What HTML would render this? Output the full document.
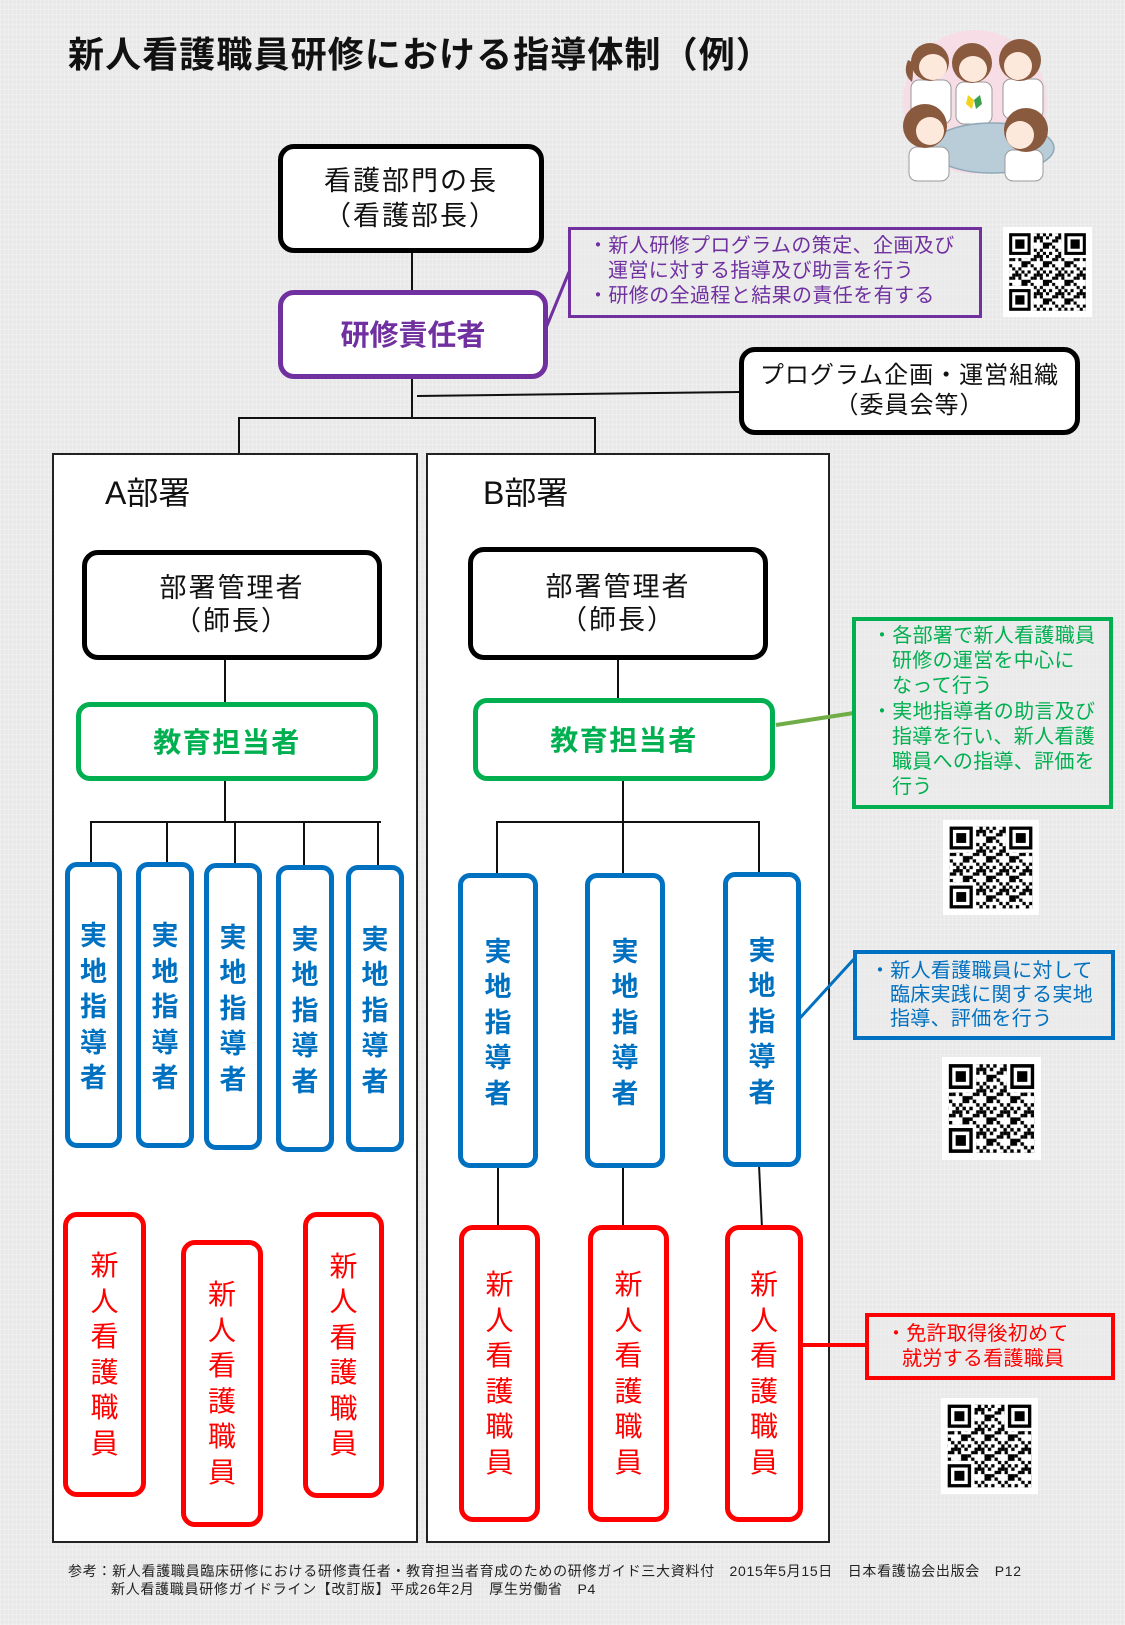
<!DOCTYPE html>
<html lang="ja">
<head>
<meta charset="utf-8">
<style>
html,body{margin:0;padding:0;}
body{width:1125px;height:1625px;position:relative;overflow:hidden;
 background-color:#e9e9e9;
 background-image:repeating-linear-gradient(90deg,rgba(255,255,255,0.25) 0 1px,transparent 1px 4px),repeating-linear-gradient(0deg,rgba(255,255,255,0.2) 0 1px,transparent 1px 5px);
 font-family:"Liberation Sans","Noto Sans CJK JP",sans-serif;}
.a{position:absolute;white-space:nowrap;}
.box{position:absolute;box-sizing:border-box;background:#fff;display:flex;align-items:center;justify-content:center;text-align:center;}
.dept{position:absolute;box-sizing:border-box;background:#fff;border:2px solid #222;}
.blk{border:5px solid #000;border-radius:16px;color:#111;font-size:27px;letter-spacing:2px;}
.bl{border:5px solid #0070C0;border-radius:12px;color:#0070C0;font-weight:bold;font-size:27px;line-height:35.5px;padding-top:6px;}
.rd{border:5px solid #FF0000;border-radius:14px;color:#FF0000;font-size:28px;line-height:35.5px;}
.gr{border:5px solid #00B050;border-radius:14px;color:#00B050;font-weight:bold;font-size:28px;letter-spacing:1.5px;}
.note{position:absolute;box-sizing:border-box;background:rgba(235,235,235,0.6);}
.pl{font-size:20px;letter-spacing:0.4px;color:#7030A0;line-height:26px;}
.gl{font-size:20px;letter-spacing:0.3px;color:#00B050;line-height:25px;}
.bll{font-size:20px;letter-spacing:0.3px;color:#0070C0;line-height:23px;}
.rl{font-size:20px;letter-spacing:0.3px;color:#FF0000;line-height:25px;}
.fn{font-size:14px;letter-spacing:0.7px;color:#222;line-height:18px;}
</style>
</head>
<body>

<!-- Title -->
<div class="a" style="left:68px;top:35px;font-size:36px;font-weight:bold;line-height:40px;letter-spacing:1.1px;color:#111;">新人看護職員研修における指導体制（例）</div>

<!-- Illustration -->
<svg style="position:absolute;left:895px;top:28px;" width="160" height="155" viewBox="895 28 160 155">
 <circle cx="975" cy="102" r="72" fill="#f6dde6"/>
 <rect x="911" y="80" width="40" height="44" rx="8" fill="#fff" stroke="#9a9a9a" stroke-width="1"/>
 <rect x="956" y="82" width="36" height="42" rx="8" fill="#fff" stroke="#9a9a9a" stroke-width="1"/>
 <rect x="1003" y="79" width="40" height="40" rx="8" fill="#fff" stroke="#9a9a9a" stroke-width="1"/>
 <path d="M968 95 l6 5 l-2 9 l-6 -5z" fill="#f2d21a"/><path d="M974 100 l6 -5 l2 9 l-6 5z" fill="#3aa050"/>
 <circle cx="930" cy="62" r="19" fill="#8a5a3f"/><ellipse cx="933" cy="67" rx="14" ry="13" fill="#fde8dc"/>
 <path d="M908 60 q-6 14 4 22 q2 -10 0 -20z" fill="#8a5a3f"/>
 <circle cx="972" cy="63" r="20" fill="#8a5a3f"/><ellipse cx="973" cy="69" rx="14" ry="13" fill="#fde8dc"/>
 <circle cx="1020" cy="60" r="21" fill="#8a5a3f"/><ellipse cx="1018" cy="66" rx="14" ry="14" fill="#fde8dc"/>
 <ellipse cx="992" cy="148" rx="62" ry="25" fill="#b9cdd9" stroke="#8fa9b8" stroke-width="1.5"/>
 <rect x="909" y="147" width="40" height="34" rx="8" fill="#fff" stroke="#9a9a9a" stroke-width="1"/>
 <circle cx="925" cy="126" r="22" fill="#8a5a3f"/><ellipse cx="930" cy="131" rx="14" ry="14" fill="#fde8dc"/>
 <rect x="1005" y="150" width="38" height="31" rx="8" fill="#fff" stroke="#9a9a9a" stroke-width="1"/>
 <circle cx="1026" cy="130" r="22" fill="#8a5a3f"/><ellipse cx="1020" cy="135" rx="14" ry="14" fill="#fde8dc"/>
</svg>

<!-- Department containers -->
<div class="dept" style="left:52px;top:453px;width:366px;height:1090px;"></div>
<div class="dept" style="left:426px;top:453px;width:404px;height:1090px;"></div>
<div class="a" style="left:105px;top:474px;font-size:32px;line-height:38px;color:#111;">A部署</div>
<div class="a" style="left:483px;top:474px;font-size:32px;line-height:38px;color:#111;">B部署</div>

<!-- Connectors -->
<svg style="position:absolute;left:0;top:0;" width="1125" height="1625">
 <g stroke="#111" stroke-width="2" fill="none">
  <line x1="412" y1="253" x2="412" y2="290"/>
  <line x1="412" y1="379" x2="412" y2="418"/>
  <line x1="417" y1="396" x2="740" y2="392"/>
  <line x1="238" y1="418" x2="596" y2="418"/>
  <line x1="239" y1="418" x2="239" y2="453"/>
  <line x1="595" y1="418" x2="595" y2="453"/>
  <line x1="225" y1="660" x2="225" y2="702"/>
  <line x1="225" y1="781" x2="225" y2="822"/>
  <line x1="90" y1="822" x2="381" y2="822"/>
  <line x1="91" y1="822" x2="91" y2="864"/>
  <line x1="167" y1="822" x2="167" y2="864"/>
  <line x1="235" y1="822" x2="235" y2="865"/>
  <line x1="304" y1="822" x2="304" y2="867"/>
  <line x1="378" y1="822" x2="378" y2="867"/>
  <line x1="618" y1="660" x2="618" y2="698"/>
  <line x1="623" y1="781" x2="623" y2="822"/>
  <line x1="496" y1="822" x2="760" y2="822"/>
  <line x1="497" y1="822" x2="497" y2="875"/>
  <line x1="623" y1="822" x2="623" y2="875"/>
  <line x1="759" y1="822" x2="759" y2="874"/>
  <line x1="498" y1="1166" x2="498" y2="1228"/>
  <line x1="623" y1="1166" x2="623" y2="1228"/>
  <line x1="759" y1="1165" x2="762" y2="1228"/>
 </g>
 <line x1="546" y1="328" x2="569" y2="272" stroke="#7030A0" stroke-width="3"/>
 <line x1="776" y1="725" x2="854" y2="713" stroke="#70AD47" stroke-width="4"/>
 <line x1="800" y1="1018" x2="854" y2="959" stroke="#0070C0" stroke-width="3"/>
 <line x1="803" y1="1345" x2="866" y2="1345" stroke="#FF0000" stroke-width="4"/>
</svg>

<!-- Top boxes -->
<div class="box blk" style="left:278px;top:144px;width:266px;height:109px;line-height:35px;">看護部門の長<br>（看護部長）</div>
<div class="box" style="left:278px;top:290px;width:270px;height:89px;border:5px solid #7030A0;border-radius:16px;color:#7030A0;font-weight:bold;font-size:29px;padding-bottom:4px;">研修責任者</div>
<div class="box blk" style="left:739px;top:347px;width:341px;height:88px;font-size:24px;letter-spacing:1px;line-height:30px;">プログラム企画・運営組織<br>（委員会等）</div>

<!-- Manager boxes -->
<div class="box blk" style="left:82px;top:550px;width:300px;height:110px;line-height:33px;">部署管理者<br>（師長）</div>
<div class="box blk" style="left:468px;top:547px;width:300px;height:113px;line-height:33px;">部署管理者<br>（師長）</div>

<!-- Education boxes -->
<div class="box gr" style="left:76px;top:702px;width:302px;height:79px;padding-bottom:2px;">教育担当者</div>
<div class="box gr" style="left:473px;top:698px;width:302px;height:83px;padding-bottom:2px;">教育担当者</div>

<!-- Blue boxes A -->
<div class="box bl" style="left:65px;top:862px;width:57px;height:286px;">実<br>地<br>指<br>導<br>者</div>
<div class="box bl" style="left:136px;top:862px;width:58px;height:286px;">実<br>地<br>指<br>導<br>者</div>
<div class="box bl" style="left:204px;top:863px;width:58px;height:287px;">実<br>地<br>指<br>導<br>者</div>
<div class="box bl" style="left:276px;top:865px;width:58px;height:287px;">実<br>地<br>指<br>導<br>者</div>
<div class="box bl" style="left:346px;top:865px;width:58px;height:287px;">実<br>地<br>指<br>導<br>者</div>
<!-- Blue boxes B -->
<div class="box bl" style="left:458px;top:873px;width:80px;height:295px;">実<br>地<br>指<br>導<br>者</div>
<div class="box bl" style="left:585px;top:873px;width:80px;height:295px;">実<br>地<br>指<br>導<br>者</div>
<div class="box bl" style="left:723px;top:872px;width:78px;height:295px;">実<br>地<br>指<br>導<br>者</div>

<!-- Red boxes A -->
<div class="box rd" style="left:63px;top:1212px;width:83px;height:285px;">新<br>人<br>看<br>護<br>職<br>員</div>
<div class="box rd" style="left:181px;top:1240px;width:82px;height:287px;">新<br>人<br>看<br>護<br>職<br>員</div>
<div class="box rd" style="left:303px;top:1212px;width:81px;height:286px;">新<br>人<br>看<br>護<br>職<br>員</div>
<!-- Red boxes B -->
<div class="box rd" style="left:459px;top:1225px;width:81px;height:297px;">新<br>人<br>看<br>護<br>職<br>員</div>
<div class="box rd" style="left:588px;top:1225px;width:81px;height:297px;">新<br>人<br>看<br>護<br>職<br>員</div>
<div class="box rd" style="left:725px;top:1225px;width:78px;height:297px;">新<br>人<br>看<br>護<br>職<br>員</div>

<!-- Purple note -->
<div class="note" style="left:568px;top:227px;width:414px;height:91px;border:3px solid #7030A0;"></div>
<div class="a pl" style="left:588px;top:233px;">・新人研修プログラムの策定、企画及び</div>
<div class="a pl" style="left:608px;top:258px;">運営に対する指導及び助言を行う</div>
<div class="a pl" style="left:588px;top:283px;">・研修の全過程と結果の責任を有する</div>

<!-- Green note -->
<div class="note" style="left:852px;top:617px;width:261px;height:192px;border:4px solid #00B050;"></div>
<div class="a gl" style="left:872px;top:624px;">・各部署で新人看護職員</div>
<div class="a gl" style="left:892px;top:649px;">研修の運営を中心に</div>
<div class="a gl" style="left:892px;top:674px;">なって行う</div>
<div class="a gl" style="left:872px;top:700px;">・実地指導者の助言及び</div>
<div class="a gl" style="left:892px;top:725px;">指導を行い、新人看護</div>
<div class="a gl" style="left:892px;top:750px;">職員への指導、評価を</div>
<div class="a gl" style="left:892px;top:775px;">行う</div>

<!-- Blue note -->
<div class="note" style="left:853px;top:950px;width:262px;height:90px;border:4px solid #0070C0;"></div>
<div class="a bll" style="left:870px;top:960px;">・新人看護職員に対して</div>
<div class="a bll" style="left:890px;top:984px;">臨床実践に関する実地</div>
<div class="a bll" style="left:890px;top:1008px;">指導、評価を行う</div>

<!-- Red note -->
<div class="note" style="left:865px;top:1313px;width:250px;height:67px;border:4px solid #FF0000;"></div>
<div class="a rl" style="left:886px;top:1322px;">・免許取得後初めて</div>
<div class="a rl" style="left:902px;top:1347px;">就労する看護職員</div>

<!-- QR codes -->
<svg style="position:absolute;left:1003px;top:227px;" width="89" height="90" viewBox="0 0 29 29" preserveAspectRatio="none">
 <defs><pattern id="qp" width="7" height="6" patternUnits="userSpaceOnUse">
  <rect x="0" y="0" width="1" height="1"/><rect x="2" y="0" width="1" height="1"/><rect x="6" y="0" width="1" height="1"/>
  <rect x="3" y="1" width="1" height="1"/><rect x="5" y="1" width="1" height="1"/>
  <rect x="1" y="2" width="1" height="1"/><rect x="4" y="2" width="1" height="1"/><rect x="6" y="2" width="1" height="1"/>
  <rect x="0" y="3" width="1" height="1"/><rect x="3" y="3" width="1" height="1"/><rect x="4" y="3" width="1" height="1"/><rect x="5" y="3" width="1" height="1"/>
  <rect x="2" y="4" width="1" height="1"/><rect x="3" y="4" width="1" height="1"/><rect x="5" y="4" width="1" height="1"/>
  <rect x="0" y="5" width="1" height="1"/><rect x="1" y="5" width="1" height="1"/><rect x="6" y="5" width="1" height="1"/>
 </pattern></defs>
 <rect width="29" height="29" fill="#fff"/>
 <rect x="2" y="2" width="25" height="25" fill="url(#qp)"/>
 <rect x="1" y="1" width="9" height="9" fill="#fff"/><rect x="2" y="2" width="7" height="7" fill="#000"/><rect x="3" y="3" width="5" height="5" fill="#fff"/><rect x="4" y="4" width="3" height="3" fill="#000"/>
 <rect x="19" y="1" width="9" height="9" fill="#fff"/><rect x="20" y="2" width="7" height="7" fill="#000"/><rect x="21" y="3" width="5" height="5" fill="#fff"/><rect x="22" y="4" width="3" height="3" fill="#000"/>
 <rect x="1" y="19" width="9" height="9" fill="#fff"/><rect x="2" y="20" width="7" height="7" fill="#000"/><rect x="3" y="21" width="5" height="5" fill="#fff"/><rect x="4" y="22" width="3" height="3" fill="#000"/>
</svg>
<svg style="position:absolute;left:943px;top:820px;" width="96" height="95" viewBox="0 0 29 29" preserveAspectRatio="none">
 <rect width="29" height="29" fill="#fff"/>
 <rect x="2" y="2" width="25" height="25" fill="url(#qp)"/>
 <rect x="1" y="1" width="9" height="9" fill="#fff"/><rect x="2" y="2" width="7" height="7" fill="#000"/><rect x="3" y="3" width="5" height="5" fill="#fff"/><rect x="4" y="4" width="3" height="3" fill="#000"/>
 <rect x="19" y="1" width="9" height="9" fill="#fff"/><rect x="20" y="2" width="7" height="7" fill="#000"/><rect x="21" y="3" width="5" height="5" fill="#fff"/><rect x="22" y="4" width="3" height="3" fill="#000"/>
 <rect x="1" y="19" width="9" height="9" fill="#fff"/><rect x="2" y="20" width="7" height="7" fill="#000"/><rect x="3" y="21" width="5" height="5" fill="#fff"/><rect x="4" y="22" width="3" height="3" fill="#000"/>
</svg>
<svg style="position:absolute;left:942px;top:1057px;" width="99" height="103" viewBox="0 0 29 29" preserveAspectRatio="none">
 <rect width="29" height="29" fill="#fff"/>
 <rect x="2" y="2" width="25" height="25" fill="url(#qp)"/>
 <rect x="1" y="1" width="9" height="9" fill="#fff"/><rect x="2" y="2" width="7" height="7" fill="#000"/><rect x="3" y="3" width="5" height="5" fill="#fff"/><rect x="4" y="4" width="3" height="3" fill="#000"/>
 <rect x="19" y="1" width="9" height="9" fill="#fff"/><rect x="20" y="2" width="7" height="7" fill="#000"/><rect x="21" y="3" width="5" height="5" fill="#fff"/><rect x="22" y="4" width="3" height="3" fill="#000"/>
 <rect x="1" y="19" width="9" height="9" fill="#fff"/><rect x="2" y="20" width="7" height="7" fill="#000"/><rect x="3" y="21" width="5" height="5" fill="#fff"/><rect x="4" y="22" width="3" height="3" fill="#000"/>
</svg>
<svg style="position:absolute;left:941px;top:1398px;" width="97" height="96" viewBox="0 0 29 29" preserveAspectRatio="none">
 <rect width="29" height="29" fill="#fff"/>
 <rect x="2" y="2" width="25" height="25" fill="url(#qp)"/>
 <rect x="1" y="1" width="9" height="9" fill="#fff"/><rect x="2" y="2" width="7" height="7" fill="#000"/><rect x="3" y="3" width="5" height="5" fill="#fff"/><rect x="4" y="4" width="3" height="3" fill="#000"/>
 <rect x="19" y="1" width="9" height="9" fill="#fff"/><rect x="20" y="2" width="7" height="7" fill="#000"/><rect x="21" y="3" width="5" height="5" fill="#fff"/><rect x="22" y="4" width="3" height="3" fill="#000"/>
 <rect x="1" y="19" width="9" height="9" fill="#fff"/><rect x="2" y="20" width="7" height="7" fill="#000"/><rect x="3" y="21" width="5" height="5" fill="#fff"/><rect x="4" y="22" width="3" height="3" fill="#000"/>
</svg>

<!-- Footnote -->
<div class="a fn" style="left:68px;top:1562px;">参考：新人看護職員臨床研修における研修責任者・教育担当者育成のための研修ガイド三大資料付　2015年5月15日　日本看護協会出版会　P12</div>
<div class="a fn" style="left:111px;top:1580px;">新人看護職員研修ガイドライン【改訂版】平成26年2月　厚生労働省　P4</div>

</body>
</html>
